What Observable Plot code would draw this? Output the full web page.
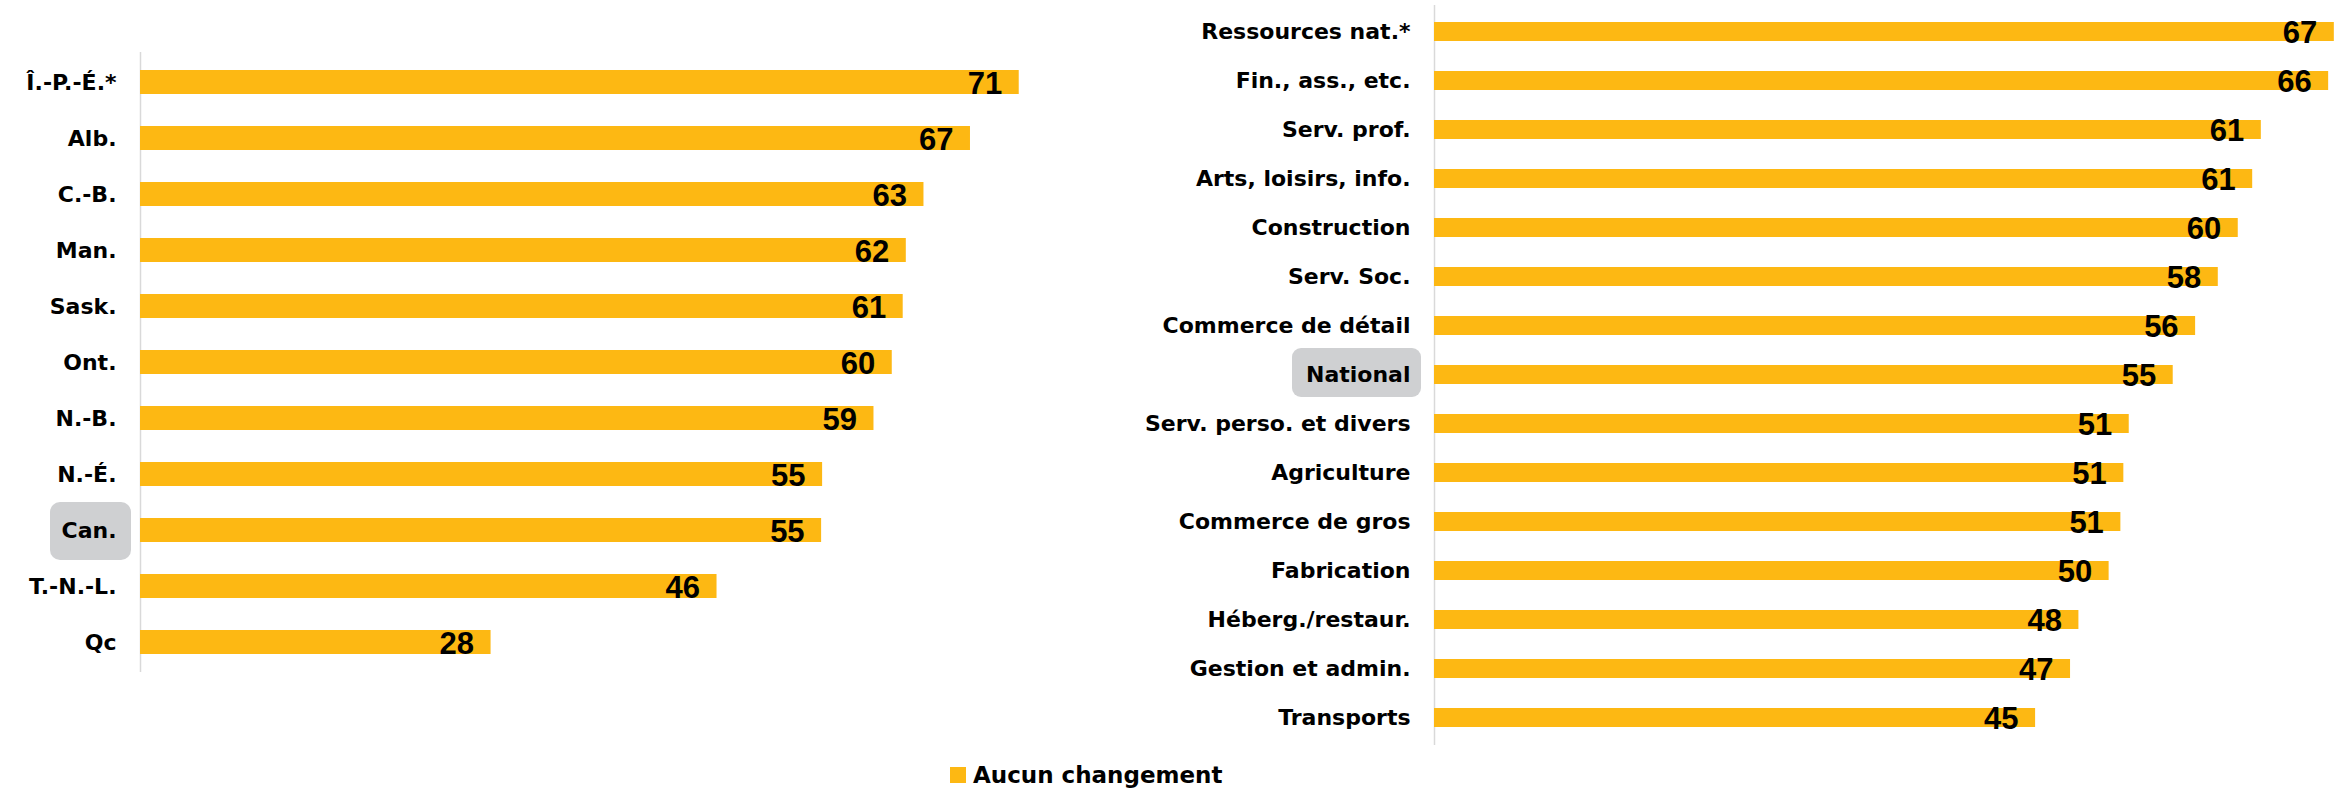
<!DOCTYPE html>
<html>
<head>
<meta charset="utf-8">
<script src="https://cdn.jsdelivr.net/npm/d3@7"></script>
<script src="https://cdn.jsdelivr.net/npm/@observablehq/plot@0.6"></script>
<style>
  html, body { margin: 0; padding: 0; background: #fff; }
  #root { position: relative; width: 2344px; height: 788px; overflow: hidden; background: #fff; }
  #left, #right { position: absolute; top: 0; }
  #left { left: 0; }
  #right { left: 1120px; }
  #legend { position: absolute; left: 950px; top: 767px; height: 16px; display: flex; align-items: center; gap: 7px;
            font-family: "DejaVu Sans", sans-serif; font-weight: bold; font-size: 23px; line-height: 23px; color: #000; white-space: nowrap; }
  #legend .sw { width: 16px; height: 16px; flex: none; }
</style>
</head>
<body>
<div id="root">
  <div id="left"></div>
  <div id="right"></div>
  <div id="legend"></div>
</div>
<script>
// ---- Data ----
const provinces = ["Î.-P.-É.*", "Alb.", "C.-B.", "Man.", "Sask.", "Ont.", "N.-B.", "N.-É.", "Can.", "T.-N.-L.", "Qc"];
const provinceValues = [70.66, 66.74, 63.0, 61.58, 61.33, 60.45, 58.98, 54.85, 54.77, 46.36, 28.19];

const sectors = ["Ressources nat.*", "Fin., ass., etc.", "Serv. prof.", "Arts, loisirs, info.", "Construction",
  "Serv. Soc.", "Commerce de détail", "National", "Serv. perso. et divers", "Agriculture",
  "Commerce de gros", "Fabrication", "Héberg./restaur.", "Gestion et admin.", "Transports"];
const sectorValues = [66.69, 66.27, 61.28, 60.64, 59.57, 58.09, 56.41, 54.75, 51.49, 51.09, 50.87, 50.00, 47.76, 47.14, 44.55];

const seriesName = "Aucun changement";
const highlightLeft = "Can.";
const highlightRight = "National";

// ---- Style ----
const barColor = "#FDB813";
const boxColor = "#cfd0d2";
const axisColor = "#d9d9d9";

function panel({cats, vals, highlight, width, height, marginLeft, marginTop, marginBottom, xmax, padInner, box}) {
  const data = cats.map((c, i) => ({c, v: vals[i]}));
  const boxMark = (index, scales, values, dims) => {
    const y = scales.y;
    const bw = typeof y.bandwidth === "function" ? y.bandwidth() : 0;
    const cy = y(highlight) + bw / 2;
    const g = d3.create("svg:g").attr("class", "hl-box");
    g.append("rect")
      .attr("x", dims.marginLeft + box.x0)
      .attr("width", box.w)
      .attr("y", cy - box.h / 2 + box.dy)
      .attr("height", box.h)
      .attr("rx", box.r).attr("ry", box.r)
      .attr("fill", boxColor);
    return g.node();
  };
  const svg = Plot.plot({
    width, height, marginLeft, marginRight: 0, marginTop, marginBottom,
    style: {background: "transparent", overflow: "visible", fontFamily: "DejaVu Sans, sans-serif",
            fontSize: "22px", fontWeight: "bold", color: "#000"},
    x: {domain: [0, xmax], axis: null},
    y: {domain: cats, paddingInner: padInner, paddingOuter: padInner / 2, align: 0.5,
        tickSize: 0, tickPadding: 24, label: null},
    marks: [
      boxMark,
      Plot.ruleX([0], {stroke: axisColor, strokeWidth: 1.5}),
      Plot.barX(data, {x: "v", y: "c", fill: barColor}),
      Plot.text(data, {x: "v", y: "c", text: d => String(Math.round(d.v)), textAnchor: "end", dx: -17, dy: 1.5,
        fontFamily: "Liberation Sans, Arial, sans-serif", fontSize: 31, fontWeight: "bold", fill: "#000"})
    ]
  });
  // put highlight box behind everything (including axis labels)
  const hb = svg.querySelector(".hl-box");
  if (hb) {
    const st = svg.querySelector("style");
    svg.insertBefore(hb, st ? st.nextSibling : svg.firstChild);
  }
  return svg;
}

document.getElementById("left").appendChild(panel({
  cats: provinces, vals: provinceValues, highlight: highlightLeft,
  width: 1110, height: 700, marginLeft: 140, marginTop: 52, marginBottom: 28, xmax: 78,
  padInner: 0.569, box: {x0: -90, w: 81, h: 58, dy: 1, r: 10}
}));

document.getElementById("right").appendChild(panel({
  cats: sectors, vals: sectorValues, highlight: highlightRight,
  width: 1218, height: 760, marginLeft: 314, marginTop: 5, marginBottom: 15, xmax: 67,
  padInner: 0.605, box: {x0: -142, w: 129, h: 49, dy: -2, r: 9}
}));

const legend = document.getElementById("legend");
const sw = document.createElement("span");
sw.className = "sw"; sw.style.background = barColor;
const lt = document.createElement("span");
lt.textContent = seriesName;
legend.appendChild(sw); legend.appendChild(lt);
</script>
</body>
</html>
